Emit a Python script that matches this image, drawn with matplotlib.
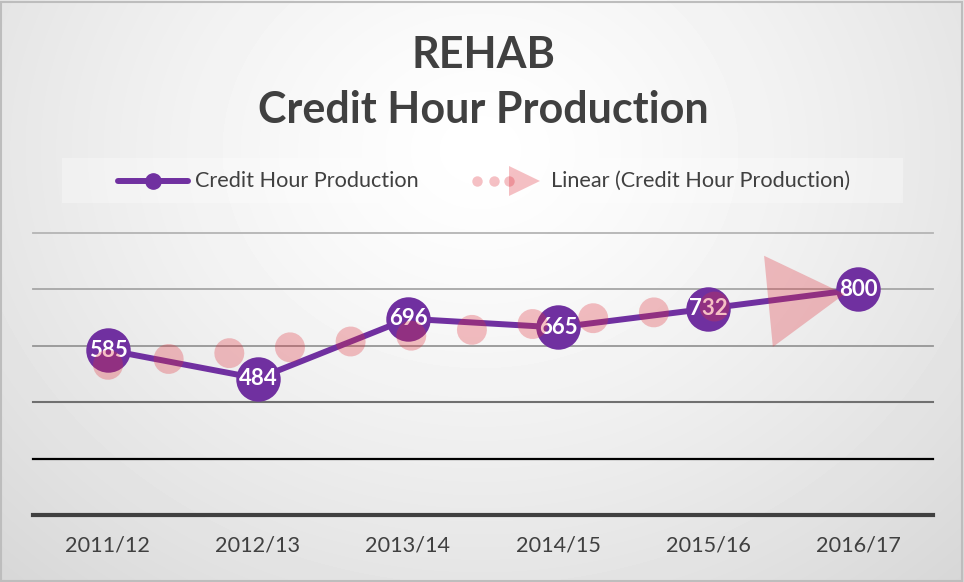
import numpy as np
import matplotlib.pyplot as plt
from matplotlib.lines import Line2D
from matplotlib.patches import FancyArrowPatch, Rectangle, Polygon

years = ['2011/12', '2012/13', '2013/14', '2014/15', '2015/16', '2016/17']
credit_hours = [585, 484, 696, 665, 732, 800]
grid_levels = [0, 200, 400, 600, 800, 1000]

purple = '#7030A0'
trend_red = '#E0303C'
text_gray = '#404040'

plt.rcParams['font.family'] = ['Lato', 'DejaVu Sans']

W, H = 964, 582
fig = plt.figure(figsize=(W / 100, H / 100), dpi=100)


def px(x, y):
    # pixel position (from top-left) -> figure coords
    return x / W, 1 - y / H


# soft radial background
bg = fig.add_axes([0, 0, 1, 1], zorder=-10)
yy, xx = np.mgrid[0:H, 0:W]
r = np.sqrt(((xx - 480) / 640) ** 2 + ((yy - 150) / 540) ** 2)
shade = np.clip(1 - 0.14 * r ** 1.3, 0, 1)
bg.imshow(shade, cmap='gray', vmin=0, vmax=1, extent=[0, 1, 0, 1],
          aspect='auto', origin='upper', interpolation='bilinear')
bg.set_xlim(0, 1)
bg.set_ylim(0, 1)
bg.axis('off')
bg.add_patch(Rectangle((0.001, 0.002), 0.997, 0.995, fill=False,
                       edgecolor='#bdbdbd', lw=1.5))

# legend band
bx, by = px(62, 203)
bg.add_patch(Rectangle((bx, by), 841 / W, 45 / H, facecolor='white',
                       alpha=0.3, lw=0))

# titles
fig.text(*px(483, 55), 'REHAB', ha='center', va='center', fontsize=31,
         fontweight='bold', color=text_gray)
fig.text(*px(483, 110), 'Credit Hour Production', ha='center', va='center',
         fontsize=31, fontweight='bold', color=text_gray)

# legend entries drawn by hand
lx0, ly = px(118, 181)
lx1, _ = px(188, 181)
fig.add_artist(Line2D([lx0, lx1], [ly, ly], color=purple, lw=4.3,
                      solid_capstyle='round'))
fig.add_artist(Line2D([px(153, 181)[0]], [ly], color=purple, marker='o',
                      ms=11, lw=0))
fig.text(*px(195, 181), 'Credit Hour Production', ha='left', va='center',
         fontsize=15.6, color=text_gray)
for dx in [477, 494, 509]:
    fig.add_artist(Line2D([px(dx, 181)[0]], [ly], color=trend_red, marker='o',
                          ms=7.5, lw=0, alpha=0.3, markeredgewidth=0))
tri = Polygon([px(509, 166), px(509, 196), px(540, 181)], closed=True,
              transform=fig.transFigure, facecolor=trend_red, alpha=0.3, lw=0)
fig.add_artist(tri)
fig.text(*px(551, 181), 'Linear (Credit Hour Production)', ha='left',
         va='center', fontsize=15.6, color=text_gray)

# main plot
ax = fig.add_axes([33 / W, 67 / H, 900 / W, 282 / H])
ax.set_facecolor('none')
ax.set_xlim(-0.5, 5.5)
ax.set_ylim(0, 1000)
for s in ax.spines.values():
    s.set_visible(False)
ax.set_yticks([])

grid_colors = ['#404040', '#000000', '#707070', '#969696', '#a6a6a6', '#b4b4b4']
grid_widths = [3.0, 1.6, 1.5, 1.3, 1.3, 1.3]
for lvl, c, w in zip(grid_levels, grid_colors, grid_widths):
    ax.axhline(lvl, color=c, lw=w, zorder=1, clip_on=False)

x = np.arange(len(years))
ax.set_xticks(x)
ax.set_xticklabels(years, fontsize=15.6, color=text_gray)
ax.tick_params(axis='x', length=0, pad=15)

ax.plot(x, credit_hours, color=purple, lw=4.3, marker='o', ms=32,
        markeredgewidth=0, zorder=3)
for xi, v in zip(x, credit_hours):
    ax.text(xi, v, str(v), ha='center', va='center', color='white',
            fontsize=16, fontweight='bold', zorder=4)

# linear trendline: dotted body + big arrow head
coef = np.polyfit(x, credit_hours, 1)
tx = np.array([0, 4.38])
ax.plot(tx, np.polyval(coef, tx), color=trend_red, alpha=0.3, lw=21.6,
        dashes=(0.001, 2.03), dash_capstyle='round', zorder=5)
a0, a1 = 4.3, 4.91
arrow = FancyArrowPatch((a0, np.polyval(coef, a0)), (a1, np.polyval(coef, a1)),
                        arrowstyle='-|>,head_length=55,head_width=33',
                        mutation_scale=1, lw=0, color=trend_red, alpha=0.3,
                        shrinkA=0, shrinkB=0, zorder=5)
ax.add_patch(arrow)

fig.savefig('out.png', dpi=100)
